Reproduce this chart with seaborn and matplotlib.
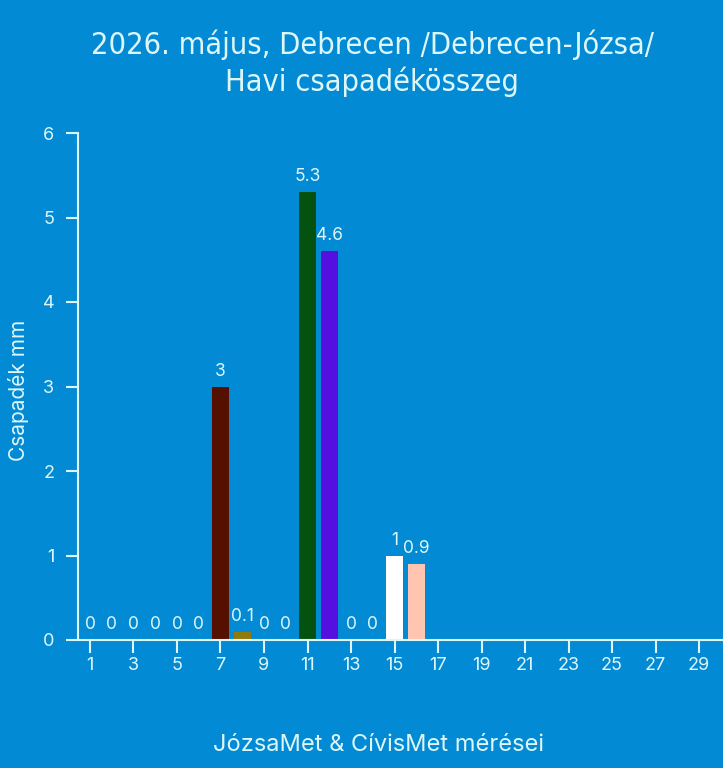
import numpy as np
import pandas as pd
import matplotlib
matplotlib.use("Agg")
import matplotlib.pyplot as plt
import seaborn as sns

# --- data -----------------------------------------------------------
days = [str(d) for d in range(1, 31)]
rain_mm = [0, 0, 0, 0, 0, 0, 3, 0.1, 0, 0, 5.3, 4.6, 0, 0, 1, 0.9]   # days 1..16 measured
bar_colors = {"7": "#561000", "8": "#8f7a10", "11": "#03520f",
              "12": "#5510e0", "15": "#ffffff", "16": "#ffc5b0"}
tick_days = [str(d) for d in range(1, 31, 2)]

title_text = "2026. május, Debrecen /Debrecen-Józsa/\nHavi csapadékösszeg"
ylabel_text = "Csapadék mm"
footer_text = "JózsaMet & CívisMet mérései"

BG = "#028bd4"
FG = "#dff6f8"

vals = rain_mm + [np.nan] * (len(days) - len(rain_mm))
df = pd.DataFrame({"day": days, "mm": vals})
palette = {d: bar_colors.get(d, BG) for d in days}

sns.set_theme(style="white")
plt.rcParams["font.family"] = ["Inter", "DejaVu Sans"]

fig = plt.figure(figsize=(7.23, 7.68), dpi=100, facecolor=BG)
ax = fig.add_axes([78 / 723, 128 / 768, 645 / 723, 507 / 768])
ax.set_facecolor(BG)

sns.barplot(data=df, x="day", y="mm", hue="day", palette=palette, order=days,
            width=0.78, legend=False, ax=ax, saturation=1, linewidth=0)

for cont in ax.containers:
    labs = ["" if np.isnan(b.get_height()) else f"{b.get_height():g}" for b in cont]
    ax.bar_label(cont, labels=labs, padding=5, color=FG, fontsize=12.5)

ax.set_xlim(-0.55, 29.1)
ax.set_ylim(0, 6)
ax.set_xticks([days.index(d) for d in tick_days])
ax.set_xticklabels(tick_days)
ax.set_yticks(range(0, 7))
ax.set_xlabel("")
ax.set_ylabel("")
ax.tick_params(axis="both", colors=FG, length=9, width=1.5, labelsize=13,
               direction="out", bottom=True, left=True)
ax.tick_params(axis="x", pad=3)
ax.tick_params(axis="y", pad=8)
for s in ["top", "right"]:
    ax.spines[s].set_visible(False)
for s in ["left", "bottom"]:
    ax.spines[s].set_color(FG)
    ax.spines[s].set_linewidth(1.5)

fig.text(0.515, (768 - 45) / 768, title_text.split("\n")[0], ha="center", va="center",
         color=FG, fontsize=22, family="DejaVu Sans", stretch="condensed")
fig.text(0.515, (768 - 82) / 768, title_text.split("\n")[1], ha="center", va="center",
         color=FG, fontsize=22, family="DejaVu Sans", stretch="condensed")
fig.text(0.025, (768 - 390) / 768, ylabel_text, rotation=90, ha="center", va="center",
         color=FG, fontsize=15)
fig.text(0.523, (768 - 745) / 768, footer_text, ha="center", va="center", color=FG, fontsize=17)

fig.savefig("out.png", dpi=100, facecolor=BG)
